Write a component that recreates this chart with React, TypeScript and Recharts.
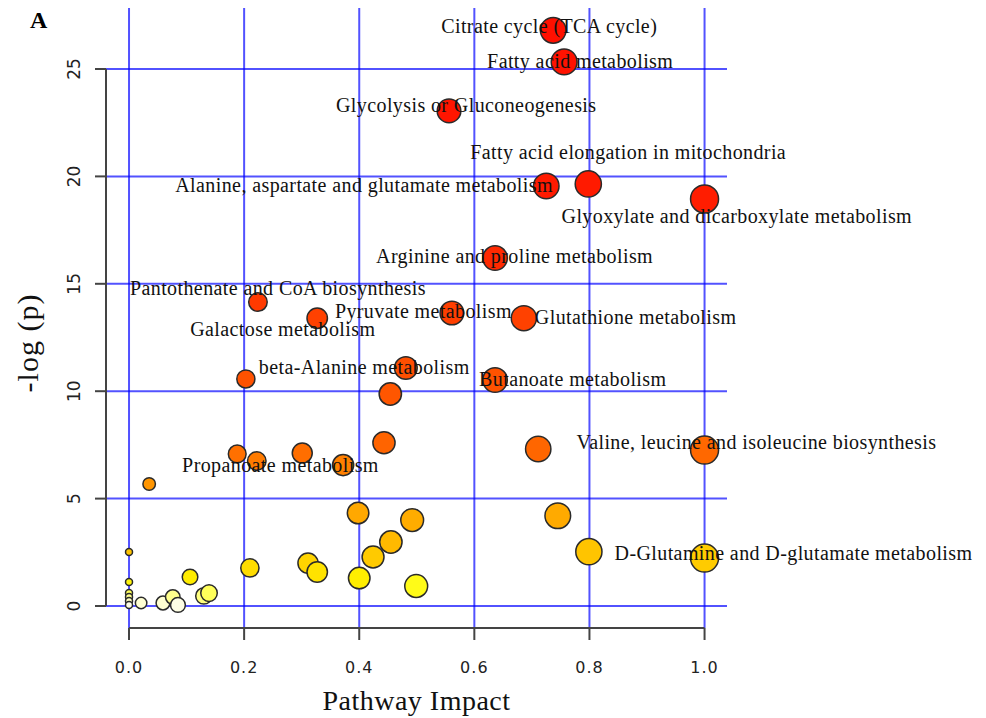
import React from 'react';
import {
  ScatterChart,
  Scatter,
  XAxis,
  YAxis,
  CartesianGrid,
  ReferenceLine,
  Label
} from 'recharts';

// pathway impact (x) and -log(p) (y) for every pathway node
const impactValues = [
  0.737, 0.756, 0.556, 0.725, 0.798, 1.0, 0.636, 0.224, 0.327, 0.561,
  0.686, 0.481, 0.636, 0.203, 0.454, 0.443, 1.0, 0.711, 0.188, 0.222,
  0.301, 0.372, 0.035, 0.398, 0.492, 0.455, 0.424, 0.4, 0.499, 0.311,
  0.327, 0.745, 0.799, 1.0, 0.21, 0.106, 0.13, 0.139, 0.021, 0.059,
  0.076, 0.085, 0, 0, 0, 0, 0, 0
];

const logPValues = [
  26.8, 25.33, 23.05, 19.55, 19.65, 18.95, 16.2, 14.15, 13.4, 13.64,
  13.4, 11.08, 10.52, 10.57, 9.87, 7.6, 7.26, 7.31, 7.08, 6.75,
  7.12, 6.56, 5.68, 4.33, 4.0, 2.98, 2.28, 1.3, 0.93, 2.0,
  1.58, 4.2, 2.53, 2.23, 1.77, 1.35, 0.47, 0.6, 0.14, 0.14,
  0.42, 0.05, 2.51, 1.12, 0.6, 0.42, 0.23, 0.05
];

// only the labelled pathways have a name
const pathwayNames = [
  'Citrate cycle (TCA cycle)', 'Fatty acid metabolism', 'Glycolysis or Gluconeogenesis',
  'Alanine, aspartate and glutamate metabolism', 'Fatty acid elongation in mitochondria',
  'Glyoxylate and dicarboxylate metabolism', 'Arginine and proline metabolism',
  'Pantothenate and CoA biosynthesis', 'Galactose metabolism', 'Pyruvate metabolism',
  'Glutathione metabolism', '', 'Butanoate metabolism', 'beta-Alanine metabolism', '', '',
  'Valine, leucine and isoleucine biosynthesis', '', '', '', '', 'Propanoate metabolism',
  '', '', '', '', '', '', '', '', '', '', '', 'D-Glutamine and D-glutamate metabolism'
];

const xTicks = [0, 0.2, 0.4, 0.6, 0.8, 1.0];
const yTicks = [0, 5, 10, 15, 20, 25];

const points = impactValues.map((x, i) => ({ x, y: logPValues[i], name: pathwayNames[i] || '' }));
const labelled = points.filter((p) => p.name);

// text start offset from the node centre, in px
const labelOffsets: Record<string, [number, number]> = {
  'Citrate cycle (TCA cycle)': [-112, 3],
  'Fatty acid metabolism': [-77, 6],
  'Glycolysis or Gluconeogenesis': [-113, 1],
  'Alanine, aspartate and glutamate metabolism': [-371, 6],
  'Fatty acid elongation in mitochondria': [-118, -25],
  'Glyoxylate and dicarboxylate metabolism': [-143, 24],
  'Arginine and proline metabolism': [-119, 5],
  'Pantothenate and CoA biosynthesis': [-128, -7],
  'Galactose metabolism': [-127, 18],
  'Pyruvate metabolism': [-117, 5],
  'Glutathione metabolism': [11, 6],
  'Butanoate metabolism': [-16, 6],
  'beta-Alanine metabolism': [13, -5],
  'Valine, leucine and isoleucine biosynthesis': [-128, -1],
  'Propanoate metabolism': [-161, 7],
  'D-Glutamine and D-glutamate metabolism': [-90, 2]
};

const colorStops: [number, number, number, number][] = [
  [0, 255, 255, 240],
  [0.3, 255, 255, 176],
  [0.8, 255, 255, 32],
  [1.3, 255, 238, 0],
  [2.2, 255, 204, 0],
  [3.0, 255, 184, 0],
  [4.2, 255, 170, 0],
  [6.0, 255, 144, 0],
  [7.0, 255, 116, 0],
  [7.3, 255, 102, 0],
  [10, 255, 85, 0],
  [13.5, 255, 64, 0],
  [16, 255, 42, 0],
  [20, 255, 24, 0],
  [27, 255, 16, 0]
];

const heatColor = (v: number) => {
  for (let i = 1; i < colorStops.length; i++) {
    const [v1, r1, g1, b1] = colorStops[i];
    const [v0, r0, g0, b0] = colorStops[i - 1];
    if (v <= v1) {
      const t = (v - v0) / (v1 - v0);
      const c = (a: number, b: number) => Math.round(a + (b - a) * t);
      return `rgb(${c(r0, r1)},${c(g0, g1)},${c(b0, b1)})`;
    }
  }
  return 'rgb(255,16,0)';
};

const Node = (props: any) => {
  const { cx, cy, payload } = props;
  const r = 3.5 + 10.5 * Math.pow(payload.x, 0.4);
  return <circle cx={cx} cy={cy} r={r} fill={heatColor(payload.y)} stroke="#2a2a2a" strokeWidth={1.5} />;
};

const NodeLabel = (props: any) => {
  const { cx, cy, payload } = props;
  const [dx, dy] = labelOffsets[payload.name] || [0, 0];
  return (
    <text x={cx + dx} y={cy + dy} fontFamily="Liberation Serif" fontSize={20} letterSpacing={0.4} fill="#111">
      {payload.name}
    </text>
  );
};

const YTick = (props: any) => {
  const { x, y, payload } = props;
  return (
    <text x={x} y={y} transform={`rotate(-90 ${x} ${y})`} textAnchor="middle" fontFamily="DejaVu Sans" fontSize={17} fill="#222">
      {payload.value}
    </text>
  );
};

const App: React.FC = () => {
  return (
    <div style={{ position: 'absolute', left: 0, top: 0, width: 986, height: 718, background: '#fff' }}>
      <div style={{ position: 'absolute', left: 30, top: 7, fontFamily: 'Liberation Serif', fontWeight: 'bold', fontSize: 24 }}>A</div>
      <ScatterChart width={986} height={718} margin={{ top: 8, right: 259, bottom: 5, left: 0 }}>
        <CartesianGrid
          stroke="#0000ff"
          strokeOpacity={0.68}
          strokeWidth={2}
          horizontalValues={yTicks}
          verticalValues={xTicks}
        />
        <XAxis
          type="number"
          dataKey="x"
          domain={[-0.04, 1.039]}
          ticks={xTicks}
          tickFormatter={(v: number) => v.toFixed(1)}
          axisLine={false}
          tickLine={{ stroke: '#444', strokeWidth: 2 }}
          tickSize={12}
          tickMargin={22}
          height={85}
          tick={{ fontFamily: 'DejaVu Sans', fontSize: 16, letterSpacing: 1, fill: '#222' }}
        >
          <Label value="Pathway Impact" position="insideBottom" offset={3} fontFamily="Liberation Serif" fontSize={28} letterSpacing={0.5} fill="#111" />
        </XAxis>
        <YAxis
          type="number"
          dataKey="y"
          domain={[-1.024, 27.84]}
          ticks={yTicks}
          axisLine={false}
          tickLine={{ stroke: '#444', strokeWidth: 2 }}
          tickSize={11}
          tickMargin={15}
          width={106}
          tick={<YTick />}
        >
          <Label
            content={() => (
              <text x={38} y={343} transform="rotate(-90 38 343)" textAnchor="middle" fontFamily="Liberation Serif" fontSize={30} letterSpacing={1} fill="#111">
                -log (p)
              </text>
            )}
          />
        </YAxis>
        <ReferenceLine segment={[{ x: 0, y: -1.024 }, { x: 1, y: -1.024 }]} stroke="#444" strokeWidth={2} />
        <ReferenceLine segment={[{ x: -0.04, y: 0 }, { x: -0.04, y: 25 }]} stroke="#444" strokeWidth={2} />
        <Scatter data={points} shape={<Node />} isAnimationActive={false} />
        <Scatter data={labelled} shape={<NodeLabel />} isAnimationActive={false} />
      </ScatterChart>
    </div>
  );
};

export default App;
